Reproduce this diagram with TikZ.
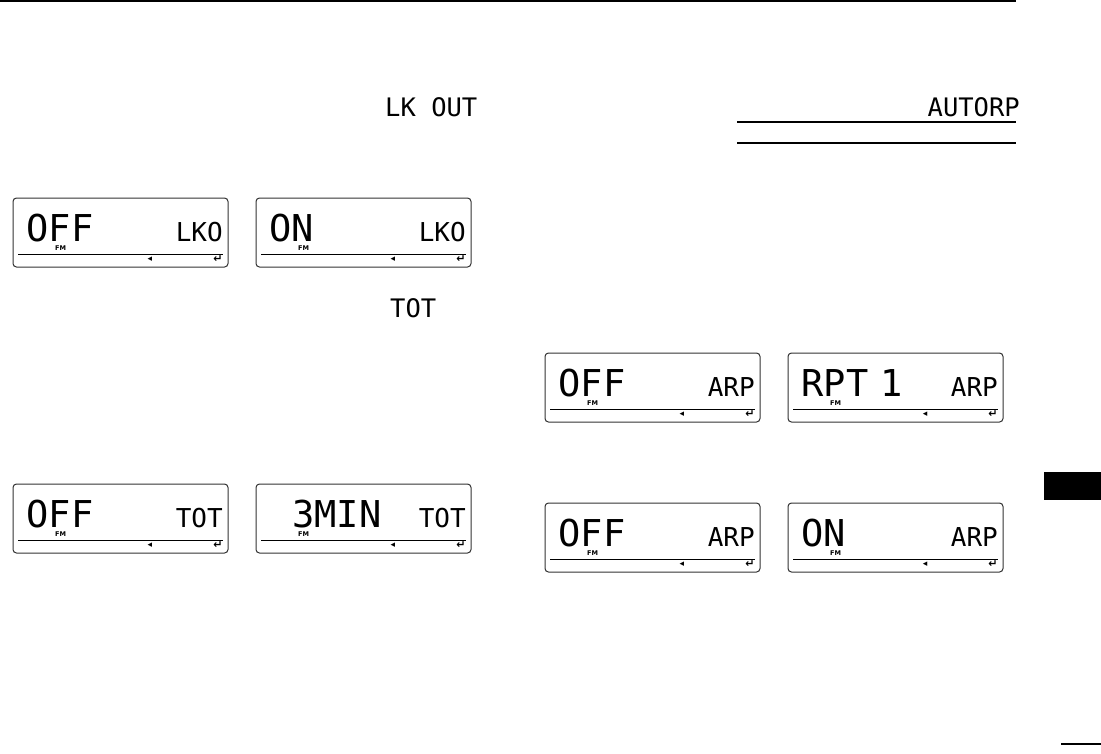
\documentclass[tikz,border=0pt]{standalone}
\usepackage{fontspec}
\newfontfamily\lcdfont{DejaVu Sans Mono}
\newfontfamily\smallfont{DejaVu Sans}
\newcommand\lcdpanel[6]{%
  \node[lcdbox, anchor=north west] (#1) at (#2,#3) {};
  \node[bigtxt] (#1-big) at ([shift={(#5,43)}]#1.north west) {#4};
  \node[smalltxt] (#1-small) at ([shift={(210,43)}]#1.north west) {#6};
  \node[fmtxt] (#1-fm) at ([shift={(42,52.5)}]#1.north west) {FM};
  \coordinate (#1-la) at ([shift={(5,56)}]#1.north west);
  \coordinate (#1-lb) at ([shift={(210,56)}]#1.north west);
  \draw[line width=1pt] (#1-la) -- (#1-lb);
  \node[symtxt] (#1-tri) at ([shift={(137,61.5)}]#1.north west) {◂};
  \node[rettxt] (#1-ret) at ([shift={(205,61)}]#1.north west) {↵};
}
\begin{document}
\begin{tikzpicture}[x=1pt,y=-1pt,
  lcdbox/.style={draw=black!80, line width=1pt, rounded corners=3.5pt, minimum width=215pt, minimum height=69pt, inner sep=0pt, outer sep=0pt},
  bigtxt/.style={inner sep=0pt, text depth=0pt, font={\lcdfont\fontsize{37}{37}\selectfont}, anchor=base west},
  smalltxt/.style={inner sep=0pt, text depth=0pt, font={\lcdfont\fontsize{26}{26}\selectfont}, anchor=base east},
  headtxt/.style={inner sep=0pt, text depth=0pt, font={\lcdfont\fontsize{25.5}{25.5}\selectfont}},
  fmtxt/.style={inner sep=0pt, text height=4.8pt, text depth=0pt, font={\smallfont\bfseries\fontsize{6.5}{6.5}\selectfont}, anchor=base west},
  symtxt/.style={inner sep=0pt, font={\smallfont\bfseries\fontsize{9}{9}\selectfont}},
  rettxt/.style={inner sep=0pt, font={\smallfont\bfseries\fontsize{11}{11}\selectfont}},
  rulethin/.style={line width=1.2pt}]
\path[use as bounding box, fill=white] (0,0) rectangle (1101,753);
% top rule
\coordinate (ruleL) at (0,1.2);
\coordinate (ruleR) at (1016,1.2);
\draw[line width=2.5pt] (ruleL) -- (ruleR);
% headers
\node[headtxt, anchor=base west] (hLK) at (385,116) {LK OUT};
\node[headtxt, anchor=base west] (hTOT) at (390,317) {TOT};
\node[headtxt, anchor=base east] (hAUTO) at (1020,116) {AUTORP};
\coordinate (l1a) at (737,122); \coordinate (l1b) at (1016,122);
\coordinate (l2a) at (737,143); \coordinate (l2b) at (1016,143);
\draw[rulethin] (l1a) -- (l1b);
\draw[rulethin] (l2a) -- (l2b);
% panels
\lcdpanel{lkoOff}{13}{198}{OFF}{13.5}{LKO}
\lcdpanel{lkoOn}{256}{198}{ON}{13.5}{LKO}
\lcdpanel{totOff}{13}{484}{OFF}{13.5}{TOT}
\lcdpanel{totOn}{256}{484}{3MIN}{36}{TOT}
\lcdpanel{arpOffA}{545}{353}{OFF}{13.5}{ARP}
\lcdpanel{arpRpt}{788}{353}{RPT\hspace{11.6pt}1}{13.5}{ARP}
\lcdpanel{arpOffB}{545}{503}{OFF}{13.5}{ARP}
\lcdpanel{arpOn}{788}{503}{ON}{13.5}{ARP}
% side tab and bottom rule
\node[fill=black, anchor=north west, minimum width=57pt, minimum height=28pt, inner sep=0pt, outer sep=0pt] (tab) at (1044,472) {};
\coordinate (bl) at (1061,744); \coordinate (br) at (1101,744);
\draw[line width=1.5pt] (bl) -- (br);
\end{tikzpicture}
\end{document}
